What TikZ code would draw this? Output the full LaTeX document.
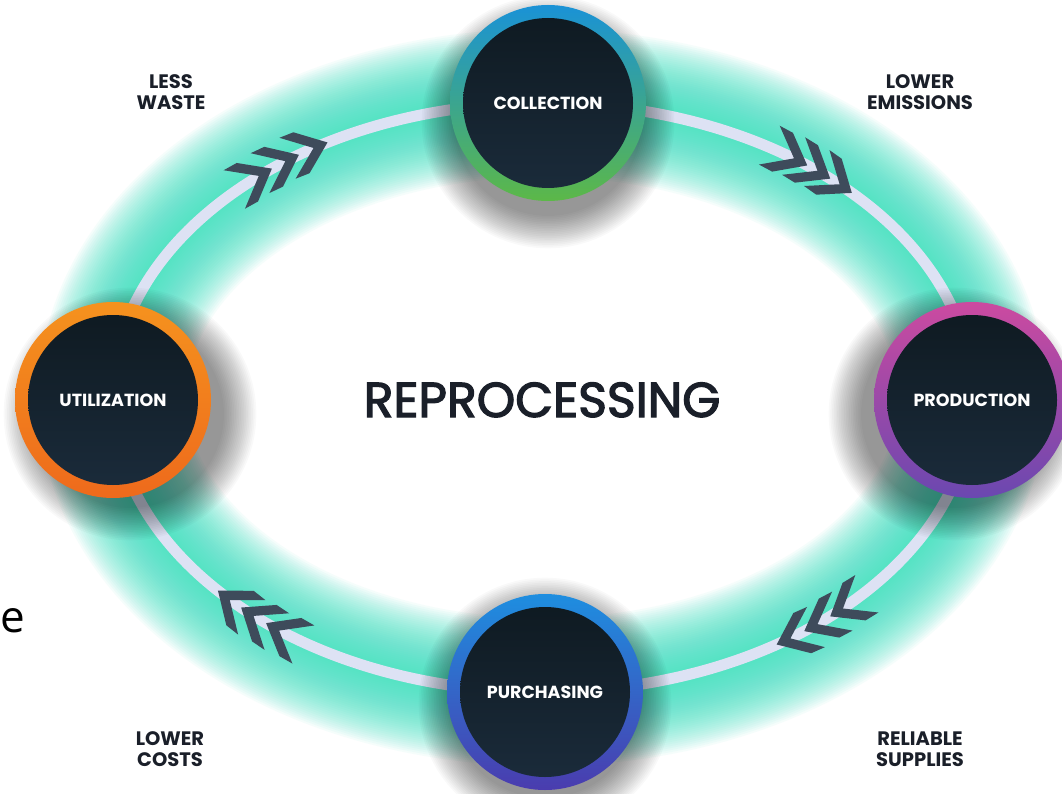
\documentclass[tikz,border=0pt]{standalone}
\usepackage{fontspec}
\setmainfont{Poppins}
\newfontfamily\titlefont{Poppins}[FakeBold=2.6]
\newfontfamily\strayfont{Open Sans}

\definecolor{glowcol}{HTML}{3EE3C3}
\definecolor{ringcol}{HTML}{DDE2F4}
\definecolor{chevcol}{HTML}{3E4B5B}
\definecolor{coreA}{HTML}{0E1920}
\definecolor{coreB}{HTML}{1B2C3C}
\definecolor{inkcol}{HTML}{1A1F29}
\definecolor{collA}{HTML}{1A92D6}
\definecolor{collB}{HTML}{5CB848}
\definecolor{utilA}{HTML}{F5921E}
\definecolor{utilB}{HTML}{EE6A1C}
\definecolor{prodA}{HTML}{CC4AA0}
\definecolor{prodB}{HTML}{6A48B0}
\definecolor{purchA}{HTML}{1E8EE0}
\definecolor{purchB}{HTML}{4A3CAE}

\begin{document}
\begin{tikzpicture}[x=1pt,y=-1pt,
  hub/.style 2 args={circle, minimum size=196pt, inner sep=0pt,
    top color=#1, bottom color=#2, text=white,
    font=\bfseries\fontsize{17.5}{20}\selectfont,
    path picture={\shade[top color=coreA, bottom color=coreB]
      (path picture bounding box.center) circle (85pt);}},
  gain/.style={font=\bfseries\fontsize{19.5}{20.5}\selectfont, text=inkcol, align=center},
  chev/.pic={\fill[chevcol] (0,0) -- (-28,22) -- (-43,22) -- (-15,0)
    -- (-43,-22) -- (-28,-22) -- cycle;}
]

\useasboundingbox (0,0) rectangle (1062,794);
\fill[white] (0,0) rectangle (1062,794);

% glow round the ring
\foreach \w in {12,16,...,148}
  \draw[glowcol, line width=\w pt, opacity=0.05] (542.5,397.5) ellipse [x radius=430, y radius=294.5];
\draw[ringcol, line width=11pt] (542.5,397.5) ellipse [x radius=430, y radius=294.5];

% chevrons, clockwise
\foreach \t in {129,124.5,120, 52,48,44, -48,-52.5,-57, 230,225.5,221}
  \pic[rotate={atan2(-294.5*cos(\t),430*sin(\t))}]
    at ({542.5+430*cos(\t)},{397.5-294.5*sin(\t)}) {chev};

% shadows under the stations
\foreach \sx/\sy in {548/122, 955/414, 545/704, 130/414}
  \foreach \k in {0,...,19}
    \fill[black, opacity=0.022] (\sx,\sy) circle ({94+1.7*\k});

% stations
\node[hub={collA}{collB}] (coll) at (548,103) {COLLECTION};
\node[hub={prodA}{prodB}] (prod) at (972,400) {PRODUCTION};
\node[hub={purchA}{purchB}] (purch) at (545,692) {PURCHASING};
\node[hub={utilA}{utilB}] (util) at (113,400) {UTILIZATION};

% gains
\node[gain] (waste) at (171,92) {LESS\\WASTE};
\node[gain] (emis) at (920,92) {LOWER\\EMISSIONS};
\node[gain] (costs) at (170,749) {LOWER\\COSTS};
\node[gain] (supp) at (920,749) {RELIABLE\\SUPPLIES};

% centre
\node[font=\titlefont\fontsize{49}{50}\selectfont, text=inkcol, anchor=base] (title) at (542,417) {REPROCESSING};

\node[font=\strayfont\fontsize{44}{44}\selectfont, anchor=base west, inner sep=0pt] (frag) at (0,632) {e};

\end{tikzpicture}
\end{document}
